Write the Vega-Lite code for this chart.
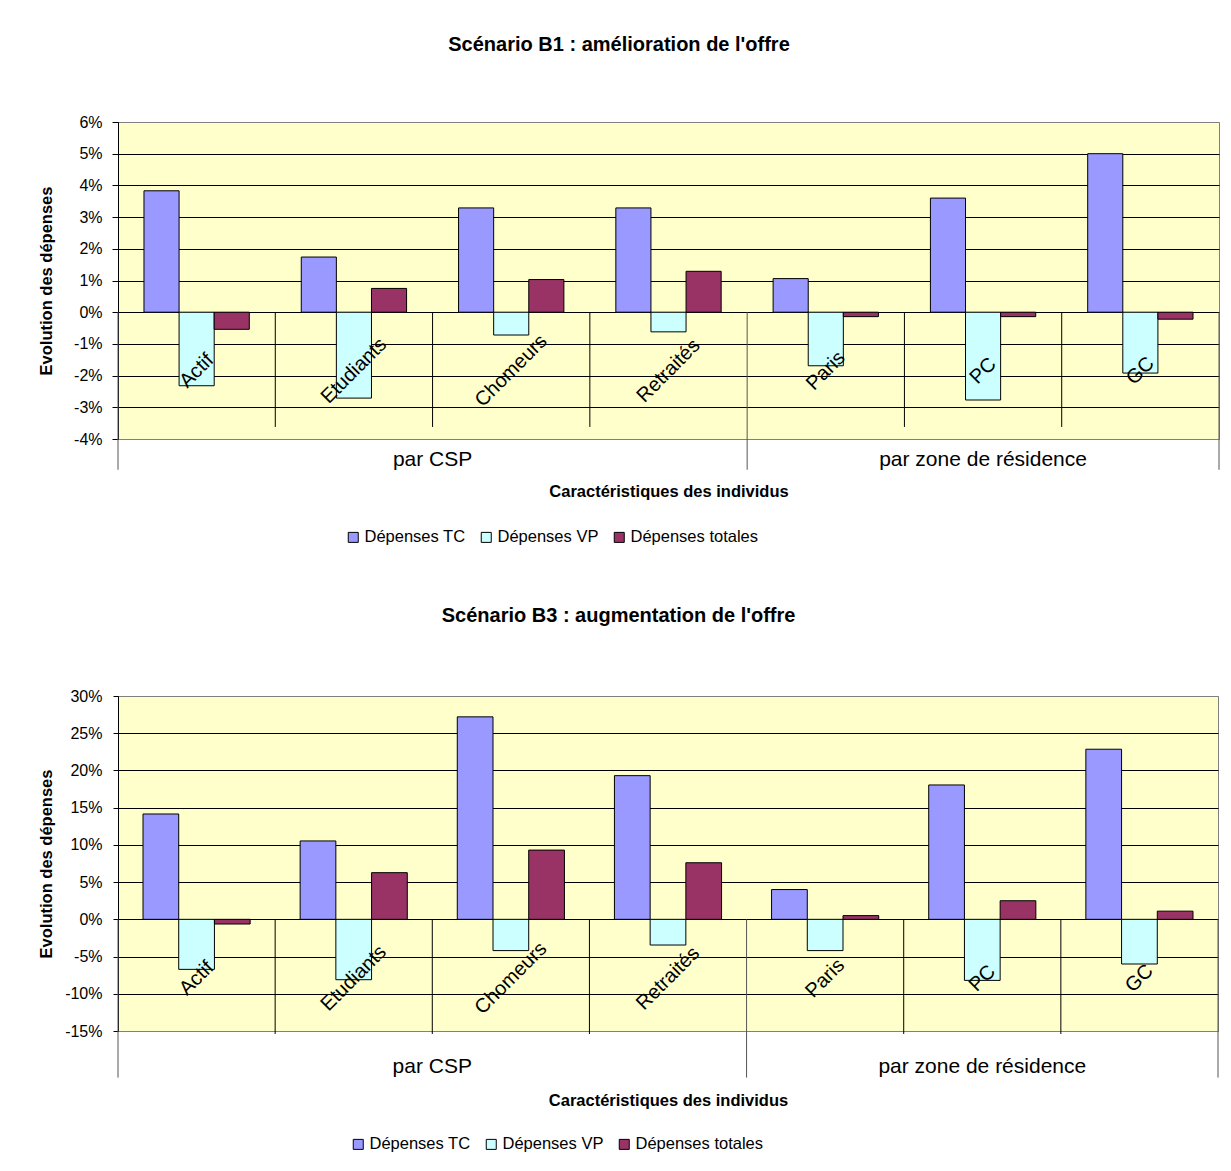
{
  "$schema": "https://vega.github.io/schema/vega-lite/v6.json",
  "padding": {"left": 38, "top": 34, "right": 5, "bottom": 5},
  "spacing": 58,
  "config": {
    "font": "Liberation Sans",
    "view": {"fill": "#FFFFCC", "stroke": "#808080", "strokeWidth": 1},
    "axis": {"labelColor": "black", "titleColor": "black", "labelFont": "Liberation Sans", "titleFont": "Liberation Sans"},
    "axisY": {"labelOverlap": false, "tickCount": 20, "labelFontSize": 16, "tickColor": "black", "domainColor": "black", "titleFontSize": 16.5, "titleFontWeight": "bold", "gridOpacity": 1, "labelExpr": "replace(datum.label, '−', '-')"},
    "legend": {"labelColor": "black", "labelFont": "Liberation Sans"},
    "title": {"color": "black", "font": "Liberation Sans"}
  },
  "datasets": {
    "b1": [
      {"cat": "Actif", "serie": "Dépenses TC", "value": 0.0383},
      {"cat": "Actif", "serie": "Dépenses VP", "value": -0.0232},
      {"cat": "Actif", "serie": "Dépenses totales", "value": -0.0054},
      {"cat": "Etudiants", "serie": "Dépenses TC", "value": 0.0174},
      {"cat": "Etudiants", "serie": "Dépenses VP", "value": -0.0271},
      {"cat": "Etudiants", "serie": "Dépenses totales", "value": 0.0075},
      {"cat": "Chomeurs", "serie": "Dépenses TC", "value": 0.0329},
      {"cat": "Chomeurs", "serie": "Dépenses VP", "value": -0.0072},
      {"cat": "Chomeurs", "serie": "Dépenses totales", "value": 0.0103},
      {"cat": "Retraités", "serie": "Dépenses TC", "value": 0.0329},
      {"cat": "Retraités", "serie": "Dépenses VP", "value": -0.0062},
      {"cat": "Retraités", "serie": "Dépenses totales", "value": 0.0129},
      {"cat": "Paris", "serie": "Dépenses TC", "value": 0.0106},
      {"cat": "Paris", "serie": "Dépenses VP", "value": -0.0169},
      {"cat": "Paris", "serie": "Dépenses totales", "value": -0.0014},
      {"cat": "PC", "serie": "Dépenses TC", "value": 0.0360},
      {"cat": "PC", "serie": "Dépenses VP", "value": -0.0277},
      {"cat": "PC", "serie": "Dépenses totales", "value": -0.0014},
      {"cat": "GC", "serie": "Dépenses TC", "value": 0.0500},
      {"cat": "GC", "serie": "Dépenses VP", "value": -0.0192},
      {"cat": "GC", "serie": "Dépenses totales", "value": -0.0022}
    ],
    "b3": [
      {"cat": "Actif", "serie": "Dépenses TC", "value": 0.1415},
      {"cat": "Actif", "serie": "Dépenses VP", "value": -0.0672},
      {"cat": "Actif", "serie": "Dépenses totales", "value": -0.0063},
      {"cat": "Etudiants", "serie": "Dépenses TC", "value": 0.1053},
      {"cat": "Etudiants", "serie": "Dépenses VP", "value": -0.0811},
      {"cat": "Etudiants", "serie": "Dépenses totales", "value": 0.0627},
      {"cat": "Chomeurs", "serie": "Dépenses TC", "value": 0.2720},
      {"cat": "Chomeurs", "serie": "Dépenses VP", "value": -0.0420},
      {"cat": "Chomeurs", "serie": "Dépenses totales", "value": 0.0930},
      {"cat": "Retraités", "serie": "Dépenses TC", "value": 0.1930},
      {"cat": "Retraités", "serie": "Dépenses VP", "value": -0.0345},
      {"cat": "Retraités", "serie": "Dépenses totales", "value": 0.0760},
      {"cat": "Paris", "serie": "Dépenses TC", "value": 0.0400},
      {"cat": "Paris", "serie": "Dépenses VP", "value": -0.0420},
      {"cat": "Paris", "serie": "Dépenses totales", "value": 0.0050},
      {"cat": "PC", "serie": "Dépenses TC", "value": 0.1805},
      {"cat": "PC", "serie": "Dépenses VP", "value": -0.0820},
      {"cat": "PC", "serie": "Dépenses totales", "value": 0.0250},
      {"cat": "GC", "serie": "Dépenses TC", "value": 0.2285},
      {"cat": "GC", "serie": "Dépenses VP", "value": -0.0600},
      {"cat": "GC", "serie": "Dépenses totales", "value": 0.0110}
    ],
    "cats": [
      {"cat": "Actif"}, {"cat": "Etudiants"}, {"cat": "Chomeurs"}, {"cat": "Retraités"},
      {"cat": "Paris"}, {"cat": "PC"}, {"cat": "GC"}
    ],
    "sepShort": [
      {"cat": "Etudiants"}, {"cat": "Chomeurs"}, {"cat": "Retraités"}, {"cat": "PC"}, {"cat": "GC"}
    ],
    "sepLong": [{"cat": "Actif"}, {"cat": "Paris"}],
    "sepEnd": [{"cat": "GC"}],
    "grp1": [{"group": "par CSP", "cat": "Chomeurs"}],
    "grp2": [{"group": "par zone de résidence", "cat": "PC"}]
  },
  "resolve": {
    "scale": {"x": "independent", "y": "independent", "xOffset": "independent", "color": "independent"},
    "legend": {"color": "independent"}
  },
  "vconcat": [
    {
      "title": {"text": "Scénario B1 : amélioration de l'offre", "fontSize": 20, "fontWeight": "bold", "anchor": "middle", "frame": "bounds", "offset": 59, "dx": -10},
      "width": 1101,
      "height": 317,
      "layer": [
        {
          "data": {"name": "b1"},
          "mark": {"type": "bar", "stroke": "black", "strokeWidth": 1},
          "encoding": {
            "x": {"field": "cat", "type": "nominal",
              "scale": {"domain": ["Actif", "Etudiants", "Chomeurs", "Retraités", "Paris", "PC", "GC"], "paddingInner": 0, "paddingOuter": 0},
              "axis": {"title": "Caractéristiques des individus", "labels": false, "ticks": false, "domain": false, "grid": false, "titleFontSize": 16.5, "titleFontWeight": "bold", "titlePadding": 44}},
            "xOffset": {"field": "serie", "type": "nominal",
              "scale": {"domain": ["Dépenses TC", "Dépenses VP", "Dépenses totales"], "paddingInner": 0, "paddingOuter": 0.74}},
            "y": {"field": "value", "type": "quantitative", "stack": null,
              "scale": {"domain": [-0.04, 0.06], "nice": false},
              "axis": {"title": "Evolution des dépenses", "values": [-0.04, -0.03, -0.02, -0.01, 0, 0.01, 0.02, 0.03, 0.04, 0.05, 0.06], "tickCount": 20,
                "format": ".0%", "tickSize": 6, "labelPadding": 10, "titlePadding": 19,
                "gridColor": {"condition": {"test": "datum.value <= -0.039 || datum.value >= 0.059", "value": "#808080"}, "value": "black"}}},
            "color": {"field": "serie", "type": "nominal",
              "scale": {"domain": ["Dépenses TC", "Dépenses VP", "Dépenses totales"], "range": ["#9999FF", "#CCFFFF", "#993366"]},
              "legend": {"title": null, "orient": "none", "legendX": 227, "legendY": 407, "direction": "horizontal",
                "labelFontSize": 16.5, "symbolType": "square", "symbolSize": 100, "symbolStrokeColor": "black",
                "symbolStrokeWidth": 1, "labelOffset": 3, "columnPadding": 12}}
          }
        },
        {
          "data": {"name": "sepShort"},
          "mark": {"type": "rule", "color": "black", "strokeWidth": 1},
          "encoding": {
            "x": {"field": "cat", "type": "nominal", "bandPosition": 0,
              "scale": {"domain": ["Actif", "Etudiants", "Chomeurs", "Retraités", "Paris", "PC", "GC"], "paddingInner": 0, "paddingOuter": 0}},
            "y": {"datum": 0, "type": "quantitative"},
            "y2": {"datum": -0.0362}
          }
        },
        {
          "data": {"name": "sepLong"},
          "mark": {"type": "rule", "color": "#555555", "strokeWidth": 1},
          "encoding": {
            "x": {"field": "cat", "type": "nominal", "bandPosition": 0,
              "scale": {"domain": ["Actif", "Etudiants", "Chomeurs", "Retraités", "Paris", "PC", "GC"], "paddingInner": 0, "paddingOuter": 0}},
            "y": {"datum": 0, "type": "quantitative"},
            "y2": {"datum": -0.0497}
          }
        },
        {
          "data": {"name": "sepEnd"},
          "mark": {"type": "rule", "color": "#555555", "strokeWidth": 1},
          "encoding": {
            "x": {"field": "cat", "type": "nominal", "bandPosition": 1,
              "scale": {"domain": ["Actif", "Etudiants", "Chomeurs", "Retraités", "Paris", "PC", "GC"], "paddingInner": 0, "paddingOuter": 0}},
            "y": {"datum": 0, "type": "quantitative"},
            "y2": {"datum": -0.0497}
          }
        },
        {
          "data": {"name": "cats"},
          "mark": {"type": "text", "angle": 315, "align": "center", "baseline": "middle", "fontSize": 20, "color": "black"},
          "encoding": {
            "x": {"field": "cat", "type": "nominal", "bandPosition": 0.5,
              "scale": {"domain": ["Actif", "Etudiants", "Chomeurs", "Retraités", "Paris", "PC", "GC"], "paddingInner": 0, "paddingOuter": 0}},
            "y": {"datum": -0.0185, "type": "quantitative"},
            "text": {"field": "cat"}
          }
        },
        {
          "data": {"name": "grp1"},
          "mark": {"type": "text", "align": "center", "baseline": "middle", "fontSize": 21, "color": "black"},
          "encoding": {
            "x": {"field": "cat", "type": "nominal", "bandPosition": 0,
              "scale": {"domain": ["Actif", "Etudiants", "Chomeurs", "Retraités", "Paris", "PC", "GC"], "paddingInner": 0, "paddingOuter": 0}},
            "y": {"datum": -0.0466, "type": "quantitative"},
            "text": {"field": "group"}
          }
        },
        {
          "data": {"name": "grp2"},
          "mark": {"type": "text", "align": "center", "baseline": "middle", "fontSize": 21, "color": "black"},
          "encoding": {
            "x": {"field": "cat", "type": "nominal", "bandPosition": 0.5,
              "scale": {"domain": ["Actif", "Etudiants", "Chomeurs", "Retraités", "Paris", "PC", "GC"], "paddingInner": 0, "paddingOuter": 0}},
            "y": {"datum": -0.0466, "type": "quantitative"},
            "text": {"field": "group"}
          }
        }
      ]
    },
    {
      "title": {"text": "Scénario B3 : augmentation de l'offre", "fontSize": 20, "fontWeight": "bold", "anchor": "middle", "frame": "bounds", "offset": 62, "dx": -10},
      "width": 1100,
      "height": 335,
      "layer": [
        {
          "data": {"name": "b3"},
          "mark": {"type": "bar", "stroke": "black", "strokeWidth": 1},
          "encoding": {
            "x": {"field": "cat", "type": "nominal",
              "scale": {"domain": ["Actif", "Etudiants", "Chomeurs", "Retraités", "Paris", "PC", "GC"], "paddingInner": 0, "paddingOuter": 0},
              "axis": {"title": "Caractéristiques des individus", "labels": false, "ticks": false, "domain": false, "grid": false, "titleFontSize": 16.5, "titleFontWeight": "bold", "titlePadding": 61}},
            "xOffset": {"field": "serie", "type": "nominal",
              "scale": {"domain": ["Dépenses TC", "Dépenses VP", "Dépenses totales"], "paddingInner": 0, "paddingOuter": 0.7}},
            "y": {"field": "value", "type": "quantitative", "stack": null,
              "scale": {"domain": [-0.15, 0.30], "nice": false},
              "axis": {"title": "Evolution des dépenses", "values": [-0.15, -0.10, -0.05, 0, 0.05, 0.10, 0.15, 0.20, 0.25, 0.30], "tickCount": 20,
                "format": ".0%", "tickSize": 5, "labelPadding": 11, "titlePadding": 10,
                "gridColor": {"condition": {"test": "datum.value <= -0.149 || datum.value >= 0.299", "value": "#808080"}, "value": "black"}}},
            "color": {"field": "serie", "type": "nominal",
              "scale": {"domain": ["Dépenses TC", "Dépenses VP", "Dépenses totales"], "range": ["#9999FF", "#CCFFFF", "#993366"]},
              "legend": {"title": null, "orient": "none", "legendX": 232, "legendY": 440, "direction": "horizontal",
                "labelFontSize": 16.5, "symbolType": "square", "symbolSize": 100, "symbolStrokeColor": "black",
                "symbolStrokeWidth": 1, "labelOffset": 3, "columnPadding": 12}}
          }
        },
        {
          "data": {"name": "sepShort"},
          "mark": {"type": "rule", "color": "black", "strokeWidth": 1},
          "encoding": {
            "x": {"field": "cat", "type": "nominal", "bandPosition": 0,
              "scale": {"domain": ["Actif", "Etudiants", "Chomeurs", "Retraités", "Paris", "PC", "GC"], "paddingInner": 0, "paddingOuter": 0}},
            "y": {"datum": 0, "type": "quantitative"},
            "y2": {"datum": -0.154}
          }
        },
        {
          "data": {"name": "sepLong"},
          "mark": {"type": "rule", "color": "#555555", "strokeWidth": 1},
          "encoding": {
            "x": {"field": "cat", "type": "nominal", "bandPosition": 0,
              "scale": {"domain": ["Actif", "Etudiants", "Chomeurs", "Retraités", "Paris", "PC", "GC"], "paddingInner": 0, "paddingOuter": 0}},
            "y": {"datum": 0, "type": "quantitative"},
            "y2": {"datum": -0.2126}
          }
        },
        {
          "data": {"name": "sepEnd"},
          "mark": {"type": "rule", "color": "#555555", "strokeWidth": 1},
          "encoding": {
            "x": {"field": "cat", "type": "nominal", "bandPosition": 1,
              "scale": {"domain": ["Actif", "Etudiants", "Chomeurs", "Retraités", "Paris", "PC", "GC"], "paddingInner": 0, "paddingOuter": 0}},
            "y": {"datum": 0, "type": "quantitative"},
            "y2": {"datum": -0.2126}
          }
        },
        {
          "data": {"name": "cats"},
          "mark": {"type": "text", "angle": 315, "align": "center", "baseline": "middle", "fontSize": 20, "color": "black"},
          "encoding": {
            "x": {"field": "cat", "type": "nominal", "bandPosition": 0.5,
              "scale": {"domain": ["Actif", "Etudiants", "Chomeurs", "Retraités", "Paris", "PC", "GC"], "paddingInner": 0, "paddingOuter": 0}},
            "y": {"datum": -0.0793, "type": "quantitative"},
            "text": {"field": "cat"}
          }
        },
        {
          "data": {"name": "grp1"},
          "mark": {"type": "text", "align": "center", "baseline": "middle", "fontSize": 21, "color": "black"},
          "encoding": {
            "x": {"field": "cat", "type": "nominal", "bandPosition": 0,
              "scale": {"domain": ["Actif", "Etudiants", "Chomeurs", "Retraités", "Paris", "PC", "GC"], "paddingInner": 0, "paddingOuter": 0}},
            "y": {"datum": -0.1984, "type": "quantitative"},
            "text": {"field": "group"}
          }
        },
        {
          "data": {"name": "grp2"},
          "mark": {"type": "text", "align": "center", "baseline": "middle", "fontSize": 21, "color": "black"},
          "encoding": {
            "x": {"field": "cat", "type": "nominal", "bandPosition": 0.5,
              "scale": {"domain": ["Actif", "Etudiants", "Chomeurs", "Retraités", "Paris", "PC", "GC"], "paddingInner": 0, "paddingOuter": 0}},
            "y": {"datum": -0.1984, "type": "quantitative"},
            "text": {"field": "group"}
          }
        }
      ]
    }
  ]
}
